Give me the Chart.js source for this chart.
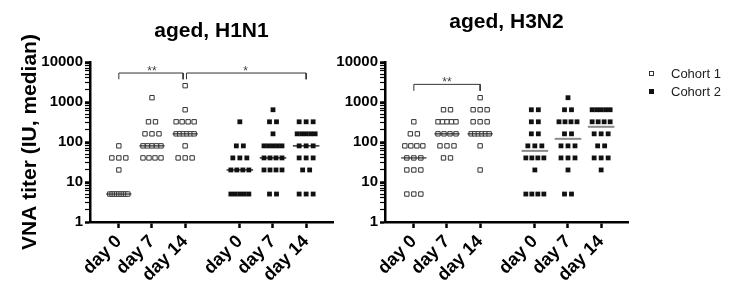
<!DOCTYPE html>
<html>
<head>
<meta charset="utf-8">
<script src="https://cdn.jsdelivr.net/npm/chart.js@4.4.0/dist/chart.umd.min.js"></script>
<style>
  html, body { margin: 0; padding: 0; background: #fff; }
  #wrap { position: relative; width: 733px; height: 299px; overflow: hidden; }
  canvas { position: absolute; top: 0; }
  #h1n1 { left: 0; }
  #h3n2 { left: 330px; }
  .legend { position: absolute; left: 649px; top: 65px; font: 13px 'Liberation Sans', Arial, sans-serif; color: #222; }
  .legend div { height: 18px; line-height: 18px; white-space: nowrap; }
  .legend span { display: inline-block; width: 5px; height: 5px; box-sizing: border-box; margin-right: 17px; vertical-align: middle; position: relative; top: -1px; }
  .open { border: 1px solid #333; background: #fff; }
  .filled { background: #111; }
</style>
</head>
<body>
<div id="wrap">
  <canvas id="h1n1" width="345" height="299"></canvas>
  <canvas id="h3n2" width="403" height="299"></canvas>
  <div class="legend">
    <div><span class="open"></span>Cohort 1</div>
    <div><span class="filled"></span>Cohort 2</div>
  </div>
</div>
<script>
const FONT = "'Liberation Sans', Arial, sans-serif";

// categories (cohort 1: first three, cohort 2: last three)
const xLabels = ['day 0', 'day 7', 'day 14', 'day 0', 'day 7', 'day 14'];
const xPos = [1, 2, 3, 4.65, 5.65, 6.65];
const yTickLabels = [1, 10, 100, 1000, 10000];

// VNA titers per subject: [day 0, day 7, day 14]
const h1n1Cohort1 = [
  [80, 40, 40, 40, 20, 5, 5, 5, 5, 5, 5, 5, 5, 5],
  [1280, 320, 320, 160, 160, 160, 80, 80, 80, 80, 80, 40, 40, 40, 40],
  [2560, 640, 320, 320, 320, 320, 160, 160, 160, 160, 160, 160, 80, 40, 40, 40]
];
const h1n1Cohort2 = [
  [320, 80, 80, 40, 40, 40, 20, 20, 20, 20, 5, 5, 5, 5, 5],
  [640, 320, 320, 160, 80, 80, 80, 80, 80, 40, 40, 40, 40, 20, 20, 20, 20, 5, 5],
  [320, 320, 320, 160, 160, 160, 160, 160, 80, 80, 80, 40, 40, 40, 20, 20, 5, 5, 5]
];
const h3n2Cohort1 = [
  [320, 160, 160, 80, 80, 80, 80, 40, 40, 40, 20, 20, 20, 5, 5, 5],
  [640, 640, 320, 320, 320, 320, 320, 160, 160, 160, 160, 80, 80, 80, 40, 40],
  [1280, 640, 640, 640, 320, 320, 320, 160, 160, 160, 160, 160, 160, 80, 20]
];
const h3n2Cohort2 = [
  [640, 640, 320, 320, 160, 160, 80, 80, 80, 40, 40, 40, 40, 20, 5, 5, 5, 5],
  [1280, 640, 640, 320, 320, 320, 320, 160, 160, 80, 80, 80, 40, 40, 40, 20, 5, 5],
  [640, 640, 640, 640, 640, 320, 320, 320, 320, 160, 160, 160, 80, 80, 40, 40, 40, 20]
];

// significance brackets: [from category, to category, label]
const h1n1Brackets = [[0, 2, '**'], [2, 5, '*']];
const h3n2Brackets = [[0, 2, '**']];

const xMin = 0.13, xMax = 7.46;
const PX = 243 / (xMax - xMin); // pixels per x unit

function median(arr) {
  const s = arr.slice().sort((a, b) => a - b);
  const m = Math.floor(s.length / 2);
  return s.length % 2 ? s[m] : (s[m - 1] + s[m]) / 2;
}

// spread equal values sideways like a dot plot
function dotPoints(groups, positions) {
  const pts = [];
  groups.forEach((vals, g) => {
    const counts = {};
    vals.forEach(v => counts[v] = (counts[v] || 0) + 1);
    Object.keys(counts).forEach(k => {
      const n = counts[k];
      const step = n > 1 ? Math.min(7, 18 / (n - 1)) : 0;
      for (let i = 0; i < n; i++) {
        pts.push({ x: positions[g] + (i - (n - 1) / 2) * step / PX, y: +k });
      }
    });
  });
  return pts;
}

function medianSets(groups, positions, color, width, half) {
  return groups.map((vals, g) => ({
    type: 'line',
    data: [{ x: positions[g] - half, y: median(vals) }, { x: positions[g] + half, y: median(vals) }],
    borderColor: color,
    borderWidth: width,
    pointRadius: 0,
    order: 0
  }));
}

function bracketSets(brackets, top, leg) {
  return brackets.map(b => {
    const shared1 = brackets.some(o => o !== b && o[1] === b[0]);
    const shared2 = brackets.some(o => o !== b && o[0] === b[1]);
    const x1 = xPos[b[0]] + (shared1 ? 0.04 : 0);
    const x2 = xPos[b[1]] - (shared2 ? 0.06 : 0);
    return {
      type: 'line',
      data: [{ x: x1, y: leg }, { x: x1, y: top }, { x: x2, y: top }, { x: x2, y: leg }],
      borderColor: '#333',
      borderWidth: 1,
      pointRadius: 0,
      tension: 0,
      order: 0
    };
  });
}

function makeChart(id, cfg) {
  const pos1 = xPos.slice(0, 3), pos2 = xPos.slice(3);
  const datasets = [
    {
      label: 'Cohort 1',
      data: dotPoints(cfg.c1, pos1),
      pointStyle: 'rect',
      pointRadius: 3.1,
      pointBackgroundColor: '#fff',
      pointBorderColor: '#333',
      pointBorderWidth: 1,
      order: 1
    },
    {
      label: 'Cohort 2',
      data: dotPoints(cfg.c2, pos2),
      pointStyle: 'rect',
      pointRadius: 3.4,
      pointBackgroundColor: '#111',
      pointBorderWidth: 0,
      order: 1
    },
    ...medianSets(cfg.c1, pos1, '#333', 1.3, 0.38),
    ...medianSets(cfg.c2, pos2, cfg.med2Color, cfg.med2Width, 0.4),
    ...bracketSets(cfg.brackets, cfg.bTop, cfg.bLeg)
  ];

  const stars = {
    id: 'stars',
    afterDatasetsDraw(chart) {
      const { ctx, scales } = chart;
      ctx.save();
      ctx.fillStyle = '#444';
      ctx.font = '12px ' + FONT;
      ctx.textAlign = 'center';
      ctx.textBaseline = 'alphabetic';
      cfg.brackets.forEach(b => {
        const x = (scales.x.getPixelForValue(xPos[b[0]]) + scales.x.getPixelForValue(xPos[b[1]])) / 2;
        ctx.fillText(b[2], x, scales.y.getPixelForValue(cfg.bTop) + 2);
      });
      ctx.restore();
    }
  };

  return new Chart(document.getElementById(id), {
    type: 'scatter',
    data: { datasets },
    options: {
      responsive: false,
      animation: false,
      events: [],
      layout: { padding: { left: 0, top: 0, right: cfg.padRight, bottom: 0 } },
      plugins: {
        legend: { display: false },
        tooltip: { enabled: false },
        title: {
          display: true,
          text: cfg.title,
          fullSize: false,
          color: '#000',
          font: { family: FONT, size: 21, weight: 'bold', lineHeight: 1.2 },
          padding: { top: cfg.titleTop, bottom: cfg.titleBottom }
        }
      },
      scales: {
        x: {
          type: 'linear',
          min: xMin,
          max: xMax,
          afterBuildTicks: s => { s.ticks = xPos.map(v => ({ value: v })); },
          afterFit: s => { s.height = 77; },
          ticks: {
            callback: (v, i) => xLabels[i],
            minRotation: 45,
            maxRotation: 45,
            autoSkip: false,
            padding: 3,
            color: '#000',
            font: { family: FONT, size: 18, weight: 'bold' }
          },
          grid: { drawOnChartArea: false, tickLength: 6, tickWidth: 2.5, tickColor: '#000' },
          border: { color: '#000', width: 2.5 }
        },
        y: {
          type: 'logarithmic',
          min: 1,
          max: 10000,
          afterBuildTicks: s => {
            const t = [];
            yTickLabels.forEach((d, i) => {
              if (i === yTickLabels.length - 1) { t.push({ value: d }); return; }
              for (let k = 1; k < 10; k++) t.push({ value: d * k });
            });
            s.ticks = t;
          },
          afterFit: s => { s.width = cfg.yWidth; },
          ticks: {
            callback: v => yTickLabels.includes(v) ? String(v) : '',
            autoSkip: false,
            padding: 2,
            color: '#000',
            font: { family: FONT, size: 15, weight: 'bold' }
          },
          grid: {
            drawOnChartArea: false,
            tickLength: 5,
            tickWidth: c => yTickLabels.includes(c.tick.value) ? 2.5 : 1.2,
            tickColor: '#000'
          },
          border: { color: '#000', width: 2.5 },
          title: {
            display: !!cfg.yTitle,
            text: cfg.yTitle || '',
            color: '#000',
            font: { family: FONT, size: 21, weight: 'bold', lineHeight: 1.2 },
            padding: { top: 18, bottom: 0 }
          }
        }
      }
    },
    plugins: [stars]
  });
}

makeChart('h1n1', {
  title: 'aged, H1N1', titleTop: 18.4, titleBottom: 18.4,
  yTitle: 'VNA titer (IU, median)', yWidth: 90, padRight: 12,
  c1: h1n1Cohort1, c2: h1n1Cohort2,
  med2Color: '#111', med2Width: 1.3,
  brackets: h1n1Brackets, bTop: 5300, bLeg: 3700
});

makeChart('h3n2', {
  title: 'aged, H3N2', titleTop: 9.4, titleBottom: 27.4,
  yTitle: null, yWidth: 55, padRight: 105,
  c1: h3n2Cohort1, c2: h3n2Cohort2,
  med2Color: '#8a8a8a', med2Width: 2,
  brackets: h3n2Brackets, bTop: 2760, bLeg: 1900
});
</script>
</body>
</html>
